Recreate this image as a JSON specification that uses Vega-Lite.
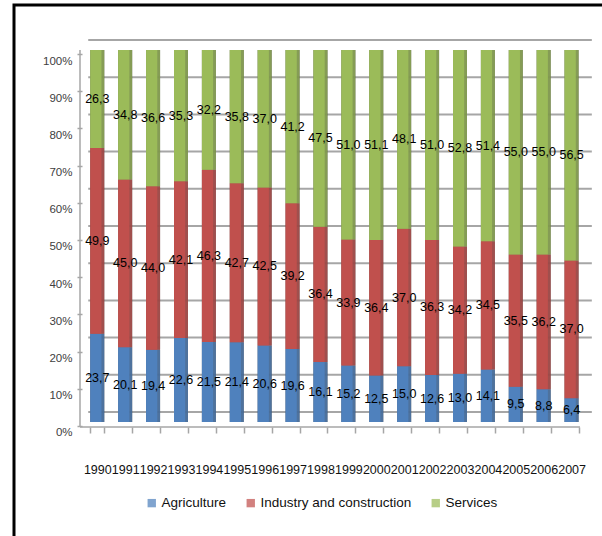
{
  "$schema": "https://vega.github.io/schema/vega-lite/v6.json",
  "width": 590,
  "height": 533,
  "autosize": {"type": "none"},
  "padding": {"left": 14, "top": 5, "right": -2, "bottom": -2},
  "background": "white",
  "config": {
    "view": {"stroke": "black", "strokeWidth": 3, "fill": "white"},
    "font": "Liberation Sans, Arial, sans-serif",
    "axisX": {
      "domain": false, "grid": false, "ticks": true, "tickBand": "extent",
      "tickSize": 6, "tickColor": "#A6A6A6", "tickWidth": 1.5, "tickOffset": -4,
      "labelAngle": 0, "labelFont": "Liberation Sans, Arial, sans-serif",
      "labelFontSize": 12.5, "labelColor": "#111111", "labelPadding": 30,
      "offset": -111, "labelOverlap": false
    },
    "axisY": {
      "domain": false, "grid": false, "ticks": true, "tickSize": 5,
      "tickColor": "#A6A6A6", "tickWidth": 1.5, "tickOffset": 4, "labelOffset": 7,
      "offset": -68, "labelPadding": 5,
      "labelFont": "Liberation Sans, Arial, sans-serif",
      "labelFontSize": 11.5, "labelColor": "#404040"
    }
  },
  "datasets": {
    "shares": [
      {"year": "1990", "sector": "Agriculture", "value": 23.7},
      {"year": "1990", "sector": "Industry and construction", "value": 49.9},
      {"year": "1990", "sector": "Services", "value": 26.3},
      {"year": "1991", "sector": "Agriculture", "value": 20.1},
      {"year": "1991", "sector": "Industry and construction", "value": 45.0},
      {"year": "1991", "sector": "Services", "value": 34.8},
      {"year": "1992", "sector": "Agriculture", "value": 19.4},
      {"year": "1992", "sector": "Industry and construction", "value": 44.0},
      {"year": "1992", "sector": "Services", "value": 36.6},
      {"year": "1993", "sector": "Agriculture", "value": 22.6},
      {"year": "1993", "sector": "Industry and construction", "value": 42.1},
      {"year": "1993", "sector": "Services", "value": 35.3},
      {"year": "1994", "sector": "Agriculture", "value": 21.5},
      {"year": "1994", "sector": "Industry and construction", "value": 46.3},
      {"year": "1994", "sector": "Services", "value": 32.2},
      {"year": "1995", "sector": "Agriculture", "value": 21.4},
      {"year": "1995", "sector": "Industry and construction", "value": 42.7},
      {"year": "1995", "sector": "Services", "value": 35.8},
      {"year": "1996", "sector": "Agriculture", "value": 20.6},
      {"year": "1996", "sector": "Industry and construction", "value": 42.5},
      {"year": "1996", "sector": "Services", "value": 37.0},
      {"year": "1997", "sector": "Agriculture", "value": 19.6},
      {"year": "1997", "sector": "Industry and construction", "value": 39.2},
      {"year": "1997", "sector": "Services", "value": 41.2},
      {"year": "1998", "sector": "Agriculture", "value": 16.1},
      {"year": "1998", "sector": "Industry and construction", "value": 36.4},
      {"year": "1998", "sector": "Services", "value": 47.5},
      {"year": "1999", "sector": "Agriculture", "value": 15.2},
      {"year": "1999", "sector": "Industry and construction", "value": 33.9},
      {"year": "1999", "sector": "Services", "value": 51.0},
      {"year": "2000", "sector": "Agriculture", "value": 12.5},
      {"year": "2000", "sector": "Industry and construction", "value": 36.4},
      {"year": "2000", "sector": "Services", "value": 51.1},
      {"year": "2001", "sector": "Agriculture", "value": 15.0},
      {"year": "2001", "sector": "Industry and construction", "value": 37.0},
      {"year": "2001", "sector": "Services", "value": 48.1},
      {"year": "2002", "sector": "Agriculture", "value": 12.6},
      {"year": "2002", "sector": "Industry and construction", "value": 36.3},
      {"year": "2002", "sector": "Services", "value": 51.0},
      {"year": "2003", "sector": "Agriculture", "value": 13.0},
      {"year": "2003", "sector": "Industry and construction", "value": 34.2},
      {"year": "2003", "sector": "Services", "value": 52.8},
      {"year": "2004", "sector": "Agriculture", "value": 14.1},
      {"year": "2004", "sector": "Industry and construction", "value": 34.5},
      {"year": "2004", "sector": "Services", "value": 51.4},
      {"year": "2005", "sector": "Agriculture", "value": 9.5},
      {"year": "2005", "sector": "Industry and construction", "value": 35.5},
      {"year": "2005", "sector": "Services", "value": 55.0},
      {"year": "2006", "sector": "Agriculture", "value": 8.8},
      {"year": "2006", "sector": "Industry and construction", "value": 36.2},
      {"year": "2006", "sector": "Services", "value": 55.0},
      {"year": "2007", "sector": "Agriculture", "value": 6.4},
      {"year": "2007", "sector": "Industry and construction", "value": 37.0},
      {"year": "2007", "sector": "Services", "value": 56.5}
    ],
    "grid": [
      {"v": 0}, {"v": 0.1}, {"v": 0.2}, {"v": 0.3}, {"v": 0.4}, {"v": 0.5},
      {"v": 0.6}, {"v": 0.7}, {"v": 0.8}, {"v": 0.9}, {"v": 1}
    ]
  },
  "layer": [
    {
      "data": {"name": "grid"},
      "mark": {"type": "rule", "color": "#A6A6A6", "strokeWidth": 2, "yOffset": -10},
      "encoding": {
        "y": {"field": "v", "type": "quantitative", "title": null,
              "scale": {"domain": [-0.31184, 1.12097], "nice": false, "zero": false, "round": false},
              "axis": {"values": [0, 0.1, 0.2, 0.3, 0.4, 0.5, 0.6, 0.7, 0.8, 0.9, 1], "format": ".0%"}},
        "x": {"datum": "1990", "type": "ordinal", "bandPosition": -0.15, "title": null,
              "scale": {"type": "band", "paddingInner": 0.5, "paddingOuter": 0.25, "range": [69.35, 571.55], "round": false}},
        "x2": {"datum": "2007", "bandPosition": 1.95}
      }
    },
    {
      "data": {"name": "grid"},
      "transform": [{"filter": "datum.v == 0"}],
      "mark": {"type": "rule", "color": "#A6A6A6", "strokeWidth": 1.5, "yOffset": 5},
      "encoding": {
        "y": {"field": "v", "type": "quantitative", "title": null,
              "scale": {"domain": [-0.31184, 1.12097], "nice": false, "zero": false, "round": false}},
        "x": {"datum": "1990", "type": "ordinal", "bandPosition": -0.74, "title": null,
              "scale": {"type": "band", "paddingInner": 0.5, "paddingOuter": 0.25, "range": [69.35, 571.55], "round": false}},
        "x2": {"datum": "2007", "bandPosition": 1.1}
      }
    },
    {
      "data": {"name": "grid"},
      "transform": [{"filter": "datum.v == 0"}],
      "mark": {"type": "rule", "color": "#A6A6A6", "strokeWidth": 1.5, "yOffset": 5},
      "encoding": {
        "y": {"datum": 0, "type": "quantitative", "title": null,
              "scale": {"domain": [-0.31184, 1.12097], "nice": false, "zero": false, "round": false}},
        "y2": {"datum": 1},
        "x": {"datum": "1990", "type": "ordinal", "bandPosition": -0.74, "title": null,
              "scale": {"type": "band", "paddingInner": 0.5, "paddingOuter": 0.25, "range": [69.35, 571.55], "round": false}}
      }
    },
    {
      "data": {"name": "shares"},
      "transform": [
        {"stack": "value", "groupby": ["year"], "sort": [{"field": "sector", "order": "ascending"}], "offset": "normalize", "as": ["y0", "y1"]}
      ],
      "mark": {"type": "bar", "color": "#2B2B2B", "opacity": 0.85},
      "encoding": {
        "x": {"field": "year", "type": "ordinal", "title": null,
              "scale": {"type": "band", "paddingInner": 0.5, "paddingOuter": 0.25, "range": [69.35, 571.55], "round": false}},
        "y": {"field": "y0", "type": "quantitative", "title": null,
              "scale": {"domain": [-0.31184, 1.12097], "nice": false, "zero": false, "round": false},
              "axis": {"values": [0, 0.1, 0.2, 0.3, 0.4, 0.5, 0.6, 0.7, 0.8, 0.9, 1], "format": ".0%"}},
        "y2": {"field": "y1"}
      }
    },
    {
      "data": {"name": "shares"},
      "transform": [
        {"stack": "value", "groupby": ["year"], "sort": [{"field": "sector", "order": "ascending"}], "offset": "normalize", "as": ["y0", "y1"]}
      ],
      "mark": {"type": "bar", "opacity": 0.72},
      "encoding": {
        "x": {"field": "year", "type": "ordinal", "title": null,
              "scale": {"type": "band", "paddingInner": 0.5, "paddingOuter": 0.25, "range": [69.35, 571.55], "round": false}},
        "y": {"field": "y0", "type": "quantitative", "title": null,
              "scale": {"domain": [-0.31184, 1.12097], "nice": false, "zero": false, "round": false}},
        "y2": {"field": "y1"},
        "color": {"field": "sector", "type": "nominal",
                  "scale": {"domain": ["Agriculture", "Industry and construction", "Services"], "range": ["#4F81BD", "#C0504D", "#9BBB59"]}}
      }
    },
    {
      "data": {"name": "shares"},
      "transform": [
        {"stack": "value", "groupby": ["year"], "sort": [{"field": "sector", "order": "ascending"}], "offset": "normalize", "as": ["y0", "y1"]}
      ],
      "mark": {"type": "bar", "width": {"band": 0.8}, "xOffset": -1.4},
      "encoding": {
        "x": {"field": "year", "type": "ordinal", "title": null,
              "scale": {"type": "band", "paddingInner": 0.5, "paddingOuter": 0.25, "range": [69.35, 571.55], "round": false}},
        "y": {"field": "y0", "type": "quantitative", "title": null,
              "scale": {"domain": [-0.31184, 1.12097], "nice": false, "zero": false, "round": false}},
        "y2": {"field": "y1"},
        "color": {"field": "sector", "type": "nominal",
                  "scale": {"domain": ["Agriculture", "Industry and construction", "Services"], "range": ["#4F81BD", "#C0504D", "#9BBB59"]},
                  "legend": {"orient": "none", "legendX": 131, "legendY": 491, "direction": "horizontal",
                             "title": null, "labelFont": "Liberation Sans, Arial, sans-serif",
                             "labelFontSize": 13.5, "labelColor": "#111111", "symbolType": "square",
                             "symbolSize": 70, "symbolStrokeWidth": 0, "symbolOpacity": 1, "columnPadding": 17, "labelOffset": 3}}
      }
    },
    {
      "data": {"name": "shares"},
      "transform": [
        {"stack": "value", "groupby": ["year"], "sort": [{"field": "sector", "order": "ascending"}], "offset": "normalize", "as": ["y0", "y1"]},
        {"calculate": "(datum.y0 + datum.y1) / 2", "as": "mid"},
        {"calculate": "replace(format(datum.value, '.1f'), '.', ',')", "as": "lab"}
      ],
      "mark": {"type": "text", "fontSize": 12.5, "color": "#000000", "align": "center", "baseline": "middle",
               "font": "Liberation Sans, Arial, sans-serif"},
      "encoding": {
        "x": {"field": "year", "type": "ordinal", "title": null,
              "scale": {"type": "band", "paddingInner": 0.5, "paddingOuter": 0.25, "range": [69.35, 571.55], "round": false}},
        "y": {"field": "mid", "type": "quantitative", "title": null,
              "scale": {"domain": [-0.31184, 1.12097], "nice": false, "zero": false, "round": false}},
        "text": {"field": "lab", "type": "nominal"}
      }
    }
  ]
}
